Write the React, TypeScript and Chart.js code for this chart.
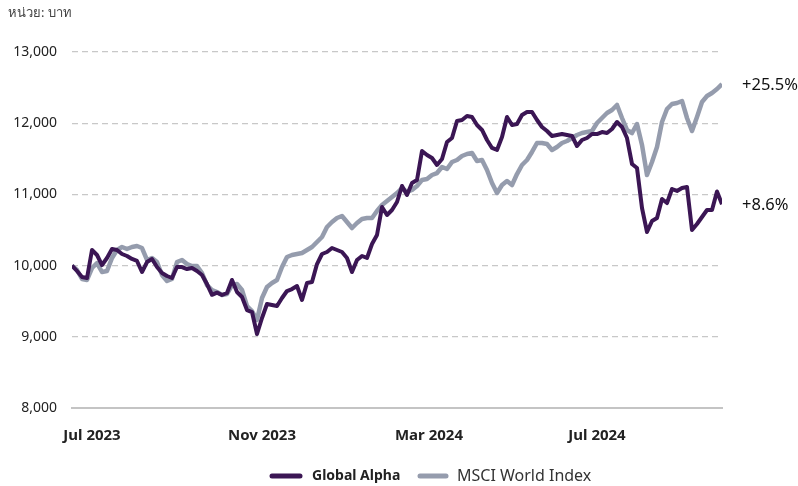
import React, { useEffect, useRef } from "react";
import { Chart, registerables } from "chart.js";

Chart.register(...registerables);

const seriesNames = ["Global Alpha", "MSCI World Index"];

const globalAlpha = [
  10000, 9924, 9840, 9826, 10219, 10149, 10008, 10107, 10233, 10219,
  10163, 10135, 10093, 10065, 9910, 10050, 10093, 9980, 9896, 9854,
  9826, 9980, 9980, 9952, 9966, 9924, 9868, 9741, 9590, 9620,
  9587, 9615, 9798, 9629, 9559, 9376, 9348, 9039, 9264, 9461,
  9446, 9432, 9545, 9643, 9671, 9713, 9517, 9756, 9770, 10022,
  10163, 10191, 10247, 10219, 10191, 10107, 9910, 10079, 10135, 10107,
  10303, 10430, 10823, 10711, 10781, 10893, 11118, 10992, 11160, 11202,
  11610, 11553, 11511, 11413, 11497, 11736, 11792, 12031, 12045, 12101,
  12087, 11975, 11905, 11764, 11652, 11624, 11806, 12087, 11975, 11989,
  12115, 12157, 12157, 12045, 11947, 11890, 11820, 11834, 11848, 11834,
  11820, 11680, 11764, 11792, 11848, 11848, 11876, 11862, 11919, 12017,
  11947, 11792, 11427, 11371, 10809, 10472, 10626, 10669, 10936, 10879,
  11076, 11048, 11090, 11104, 10500, 10584, 10683, 10781, 10781, 11040,
  10860,
];

const msciWorld = [
  10000, 9938, 9812, 9798, 9966, 10036, 9910, 9924, 10107, 10219,
  10261, 10233, 10261, 10275, 10247, 10079, 10107, 10050, 9868, 9784,
  9812, 10050, 10079, 10022, 9994, 9994, 9896, 9727, 9657, 9629,
  9587, 9601, 9727, 9741, 9657, 9432, 9362, 9236, 9545, 9699,
  9756, 9798, 9980, 10121, 10149, 10163, 10177, 10219, 10261, 10332,
  10402, 10542, 10612, 10669, 10697, 10612, 10528, 10598, 10655, 10669,
  10669, 10767, 10851, 10907, 10964, 11020, 11090, 11034, 11062, 11118,
  11202, 11216, 11272, 11300, 11385, 11357, 11455, 11483, 11539, 11567,
  11581, 11469, 11483, 11343, 11160, 11020, 11132, 11188, 11132, 11286,
  11413, 11483, 11596, 11722, 11722, 11708, 11624, 11666, 11722, 11750,
  11792, 11834, 11862, 11876, 11890, 12003, 12073, 12143, 12185, 12256,
  12073, 11905, 11862, 11989, 11694, 11272, 11455, 11666, 12017, 12199,
  12270, 12284, 12312, 12073, 11890, 12087, 12298, 12382, 12424, 12480,
  12550,
];

const xTickIndex = [4, 38, 71.4, 105];
const xTickLabels = ["Jul 2023", "Nov 2023", "Mar 2024", "Jul 2024"];
const returnLabels = ["+8.6%", "+25.5%"];
const unitLabel = "หน่วย: บาท";

const DARK = "#3b1654";
const GREY = "#959cad";
const FONT = "'Noto Sans', 'DejaVu Sans', sans-serif";

const overlayPlugin = {
  id: "overlay",
  afterDraw(chart: any) {
    const ctx = chart.ctx;
    const y = chart.scales.y;
    const area = chart.chartArea;
    ctx.save();
    ctx.fillStyle = "#444";
    ctx.font = `13px ${FONT}`;
    ctx.textAlign = "left";
    ctx.textBaseline = "middle";
    ctx.fillText(unitLabel, 8, 13);

    ctx.fillStyle = "#111";
    ctx.font = `16.5px ${FONT}`;
    const lastGA = globalAlpha[globalAlpha.length - 1];
    const lastMS = msciWorld[msciWorld.length - 1];
    ctx.fillText(returnLabels[0], area.right + 20, y.getPixelForValue(lastGA) + 1);
    ctx.fillText(returnLabels[1], area.right + 20, y.getPixelForValue(lastMS) + 1);

    const ly = 476;
    ctx.lineCap = "round";
    ctx.lineWidth = 5;
    ctx.strokeStyle = DARK;
    ctx.beginPath();
    ctx.moveTo(272, ly);
    ctx.lineTo(300, ly);
    ctx.stroke();
    ctx.fillStyle = "#222";
    ctx.font = `bold 14px ${FONT}`;
    ctx.fillText(seriesNames[0], 312, ly);
    ctx.strokeStyle = GREY;
    ctx.beginPath();
    ctx.moveTo(420, ly);
    ctx.lineTo(446, ly);
    ctx.stroke();
    ctx.font = `16px ${FONT}`;
    ctx.fillStyle = "#333";
    ctx.fillText(seriesNames[1], 457, ly);
    ctx.restore();
  },
};

export default function App() {
  const ref = useRef<HTMLCanvasElement>(null);

  useEffect(() => {
    if (!ref.current) return;
    const idx = globalAlpha.map((_, i) => i);
    const chart = new Chart(ref.current, {
      type: "line",
      data: {
        labels: idx,
        datasets: [
          {
            label: seriesNames[0],
            data: globalAlpha.map((v, i) => ({ x: i, y: v })),
            borderColor: DARK,
            borderWidth: 4,
            pointRadius: 0,
            tension: 0,
            borderJoinStyle: "round",
          },
          {
            label: seriesNames[1],
            data: msciWorld.map((v, i) => ({ x: i, y: v })),
            borderColor: GREY,
            borderWidth: 4.5,
            pointRadius: 0,
            tension: 0,
            borderJoinStyle: "round",
          },
        ],
      },
      options: {
        animation: false,
        responsive: true,
        maintainAspectRatio: false,
        layout: { padding: { top: 52, right: 76, left: 0, bottom: 0 } },
        plugins: {
          legend: { display: false },
          tooltip: { enabled: false },
        },
        scales: {
          x: {
            type: "linear",
            min: 0,
            max: globalAlpha.length - 1,
            grid: { display: false },
            border: { display: true, color: "#c4c4c4", width: 2 },
            afterBuildTicks: (scale: any) => {
              scale.ticks = xTickIndex.map((v) => ({ value: v }));
            },
            afterFit: (scale: any) => {
              scale.height = 78;
            },
            ticks: {
              autoSkip: false,
              maxRotation: 0,
              padding: 11,
              color: "#222",
              font: { family: FONT, size: 15, weight: "bold" },
              callback: (value: any) => {
                const k = xTickIndex.indexOf(value);
                return k >= 0 ? xTickLabels[k] : "";
              },
            },
          },
          y: {
            min: 8000,
            max: 13000,
            afterFit: (scale: any) => {
              scale.width = 72;
            },
            grid: {
              color: "#c8c8c8",
              lineWidth: 1.3,
              drawTicks: false,
            },
            border: { display: false, dash: [6, 4] },
            ticks: {
              stepSize: 1000,
              padding: 15,
              color: "#222",
              font: { family: FONT, size: 14 },
              callback: (v: any) => Number(v).toLocaleString("en-US"),
            },
          },
        },
      },
      plugins: [overlayPlugin],
    });
    return () => chart.destroy();
  }, []);

  return (
    <div style={{ position: "absolute", left: 0, top: 0, width: 798, height: 486 }}>
      <canvas ref={ref} />
    </div>
  );
}
